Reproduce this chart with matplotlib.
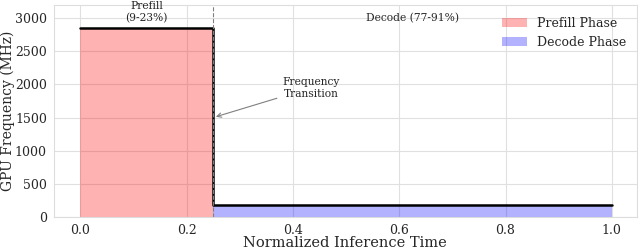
import matplotlib.pyplot as plt
import seaborn as sns

# phase boundaries (normalized time) and frequencies (MHz)
phase_names = ['Prefill Phase', 'Decode Phase']
phase_start = [0.0, 0.25]
phase_end = [0.25, 1.0]
phase_freq = [2850, 180]
phase_colors = ['red', 'blue']

sns.set_style('whitegrid', {'grid.color': '#e0e0e0'})
plt.rcParams['font.family'] = ['DejaVu Serif']

fig, ax = plt.subplots(figsize=(6.4, 2.49), dpi=100)
fig.subplots_adjust(left=0.084, right=0.995, top=0.98, bottom=0.129)

for name, s, e, f, c in zip(phase_names, phase_start, phase_end, phase_freq, phase_colors):
    ax.fill_between([s, e], 0, f, color=c, alpha=0.3, label=name, lw=0)

# step line on top
xs = [phase_start[0], phase_end[0], phase_start[1], phase_end[1]]
ys = [phase_freq[0], phase_freq[0], phase_freq[1], phase_freq[1]]
ax.plot(xs, ys, color='black', lw=1.8)

ax.axvline(phase_end[0], color='grey', ls='--', lw=0.8)

ax.text(0.125, 3090, 'Prefill\n(9-23%)', ha='center', va='center', fontsize=7.7)
ax.text(0.625, 3000, 'Decode (77-91%)', ha='center', va='center', fontsize=7.7)
ax.annotate('Frequency\nTransition', xy=(0.25, 1500), xytext=(0.435, 1950),
            ha='center', va='center', fontsize=7.7,
            arrowprops=dict(arrowstyle='->', color='grey', lw=0.8))

ax.set_xlim(-0.05, 1.047)
ax.set_ylim(0, 3200)
ax.set_xticks([0.0, 0.2, 0.4, 0.6, 0.8, 1.0])
ax.set_yticks([0, 500, 1000, 1500, 2000, 2500, 3000])
ax.tick_params(labelsize=9, pad=1.5)
ax.set_xlabel('Normalized Inference Time', fontsize=10.5, labelpad=-0.3)
ax.set_ylabel('GPU Frequency (MHz)', fontsize=10, labelpad=0)
for sp in ax.spines.values():
    sp.set_color('#dddddd')
ax.legend(loc='upper right', fontsize=9, frameon=False, labelspacing=0.45,
          borderaxespad=0, bbox_to_anchor=(0.991, 0.966))

plt.savefig('out.png', dpi=100)
